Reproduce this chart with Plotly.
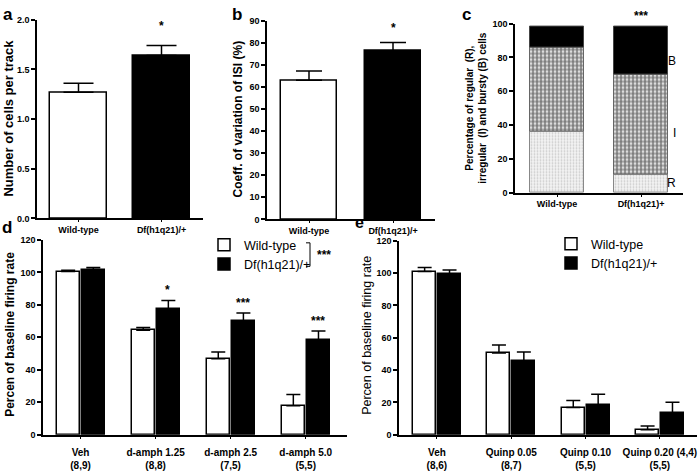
import plotly.graph_objects as go

W, H = 700, 471
F = "Liberation Sans"

# ---------------- data ----------------
a_groups = ["Wild-type", "Df(h1q21)/+"]
a_mean = [1.27, 1.64]
a_sem = [0.09, 0.10]

b_groups = ["Wild-type", "Df(h1q21)/+"]
b_mean = [63.0, 76.3]
b_sem = [4.2, 3.8]

c_groups = ["Wild-type", "Df(h1q21)+"]
c_regular = [36, 11]
c_irregular = [50, 59]
c_bursty = [12, 28]

d_doses = ["Veh<br>(8,9)", "d-amph 1.25<br>(8,8)", "d-amph 2.5<br>(7,5)", "d-amph 5.0<br>(5,5)"]
d_wt = [100.5, 64.3, 46.8, 17.8]
d_wt_sem = [0.8, 1.8, 4.2, 7.0]
d_df = [101.7, 77.5, 70.0, 58.4]
d_df_sem = [1.3, 5.2, 5.0, 5.5]
d_stars = ["", "*", "***", "***"]

e_doses = ["Veh<br>(8,6)", "Quinp 0.05<br>(8,7)", "Quinp 0.10<br>(5,5)", "Quinp 0.20 (4,4)<br>(5,5)"]
e_wt = [101.0, 50.6, 16.9, 3.0]
e_wt_sem = [2.5, 5.0, 4.2, 2.4]
e_df = [99.5, 45.8, 18.5, 13.3]
e_df_sem = [2.5, 5.4, 6.6, 6.8]

# ---------------- helpers ----------------
def px(x):
    return x / W

def py(y):
    return 1 - y / H

tick_font = dict(family=F, size=9, color="black", weight="bold")

def xax(x0, x1, anchor, rng, tickvals, ticktext, size=9, standoff=0, ticklen=3):
    return dict(domain=[px(x0), px(x1)], anchor=anchor, range=rng,
                tickvals=tickvals, ticktext=ticktext,
                showline=True, linecolor="black", linewidth=1.5,
                ticks="outside", ticklen=ticklen, tickwidth=1.2, tickcolor="black",
                showgrid=False, zeroline=False, ticklabelstandoff=standoff,
                tickfont=dict(family=F, size=size, color="black", weight="bold"),
                fixedrange=True)

def yax(y0, y1, anchor, rng, dtick, fmt=None):
    d = dict(domain=[py(y1), py(y0)], anchor=anchor, range=rng, dtick=dtick, tick0=0,
             showline=True, linecolor="black", linewidth=1.5,
             ticks="outside", ticklen=4, tickwidth=1.5, tickcolor="black",
             showgrid=False, zeroline=False, tickfont=tick_font, fixedrange=True)
    if fmt:
        d["tickformat"] = fmt
    return d

def up_err(sem, width):
    return dict(type="data", array=sem, arrayminus=[0] * len(sem), symmetric=False,
                color="black", thickness=1.5, width=width)

fig = go.Figure()

# ---------------- panel a ----------------
fig.add_trace(go.Bar(x=[0, 1], y=a_mean, width=0.68, xaxis="x", yaxis="y",
                     marker=dict(color=["white", "black"], line=dict(color="black", width=1.5)),
                     error_y=up_err(a_sem, 15), showlegend=False))

# ---------------- panel b ----------------
fig.add_trace(go.Bar(x=[0, 1], y=b_mean, width=0.67, xaxis="x2", yaxis="y2",
                     marker=dict(color=["white", "black"], line=dict(color="black", width=1.5)),
                     error_y=up_err(b_sem, 13), showlegend=False))

# ---------------- panel c ----------------
c_base_i = c_regular
c_base_b = [r + i for r, i in zip(c_regular, c_irregular)]
fig.add_trace(go.Bar(x=[0, 1], y=c_regular, width=0.65, xaxis="x3", yaxis="y3",
                     marker=dict(color="white",
                                 pattern=dict(shape=".", size=3, solidity=0.3,
                                              fgcolor="#a0a0a0", bgcolor="#f4f4f4"),
                                 line=dict(color="#888888", width=1)),
                     showlegend=False, name="R"))
fig.add_trace(go.Bar(x=[0, 1], y=c_irregular, base=c_base_i, width=0.65, xaxis="x3", yaxis="y3",
                     marker=dict(color="white",
                                 pattern=dict(shape=".", size=4, solidity=0.7,
                                              fgcolor="black", bgcolor="white"),
                                 line=dict(color="#666666", width=1)),
                     showlegend=False, name="I"))
fig.add_trace(go.Bar(x=[0, 1], y=c_bursty, base=c_base_b, width=0.65, xaxis="x3", yaxis="y3",
                     marker=dict(color="black", line=dict(color="#444444", width=1)),
                     showlegend=False, name="B"))

# ---------------- panel d ----------------
gx = list(range(4))
fig.add_trace(go.Bar(x=gx, y=d_wt, width=0.31, offset=-0.32, xaxis="x4", yaxis="y4",
                     name="Wild-type", legend="legend",
                     marker=dict(color="white", line=dict(color="black", width=1.5)),
                     error_y=up_err(d_wt_sem, 7)))
fig.add_trace(go.Bar(x=gx, y=d_df, width=0.31, offset=0.015, xaxis="x4", yaxis="y4",
                     name="Df(h1q21)/+", legend="legend",
                     marker=dict(color="black", line=dict(color="black", width=1.5)),
                     error_y=up_err(d_df_sem, 7)))

# ---------------- panel e ----------------
fig.add_trace(go.Bar(x=gx, y=e_wt, width=0.31, offset=-0.32, xaxis="x5", yaxis="y5",
                     name="Wild-type", legend="legend2",
                     marker=dict(color="white", line=dict(color="black", width=1.5)),
                     error_y=up_err(e_wt_sem, 7)))
fig.add_trace(go.Bar(x=gx, y=e_df, width=0.31, offset=0.015, xaxis="x5", yaxis="y5",
                     name="Df(h1q21)/+", legend="legend2",
                     marker=dict(color="black", line=dict(color="black", width=1.5)),
                     error_y=up_err(e_df_sem, 7)))

ann = []

def panel_label(t, x, y, size=17):
    ann.append(dict(text=t, x=px(x), y=py(y), xref="paper", yref="paper", showarrow=False,
                    xanchor="center", yanchor="middle",
                    font=dict(family=F, size=size, color="black", weight="bold")))

def ytitle(t, x, y, size=11, weight="bold"):
    ann.append(dict(text=t, x=px(x), y=py(y), xref="paper", yref="paper", showarrow=False,
                    textangle=-90, xanchor="center", yanchor="middle",
                    font=dict(family=F, size=size, color="black", weight=weight)))

def star(t, x, y, xr, yr, shift):
    ann.append(dict(text=t, x=x, y=y, xref=xr, yref=yr, showarrow=False,
                    xanchor="center", yanchor="bottom", yshift=shift,
                    font=dict(family=F, size=12, color="black", weight="bold")))

panel_label("a", 8, 10)
panel_label("b", 237, 10)
panel_label("c", 466, 10)
panel_label("d", 7, 227)
panel_label("e", 360, 222, size=16)

ytitle("Number of cells per track", 9, 116, size=13)
ytitle("Coeff. of variation of ISI (%)", 238, 117, size=12)
ytitle("Percentage of regular  (R),<br>irregular  (I) and bursty (B) cells", 476, 105, size=10)
ytitle("Percen of baseline firing rate", 10, 337, size=12)
ytitle("Percen of baseline firing rate", 367, 337, weight="normal", size=12.5)

star("*", 1, a_mean[1] + a_sem[1], "x", "y", 11)
star("*", 1, b_mean[1] + b_sem[1], "x2", "y2", 6)
star("***", 1, c_base_b[1] + c_bursty[1], "x3", "y3", 2)
for i, s in enumerate(d_stars):
    if s:
        star(s, i + 0.165, d_df[i] + d_df_sem[i], "x4", "y4", 1)

for t, y in zip(["B", "I", "R"], [48, 122, 182]):
    ann.append(dict(text=t, x=px(678), y=py(y), xref="paper", yref="paper", showarrow=False,
                    font=dict(family=F, size=12, color="#000000")))

ann.append(dict(text="***", x=px(324), y=py(255), xref="paper", yref="paper", showarrow=False,
                font=dict(family=F, size=12, color="black", weight="bold")))

shapes = [dict(type="path", xref="paper", yref="paper", line=dict(color="black", width=1),
               path=f"M {px(306)} {py(243)} L {px(310)} {py(243)} L {px(310)} {py(267)} L {px(306)} {py(267)}")]

leg_common = dict(bgcolor="rgba(0,0,0,0)", font=dict(family=F, size=12.5, color="black"),
                  xanchor="left", yanchor="top", itemclick=False, itemdoubleclick=False,
                  tracegroupgap=0)

fig.update_layout(
    width=W, height=H, margin=dict(l=0, r=0, t=0, b=0),
    paper_bgcolor="white", plot_bgcolor="white",
    barmode="overlay", bargap=0,
    font=dict(family=F, color="black"),
    xaxis=xax(37, 203, "y", [-0.5, 1.5], [0, 1], a_groups, ticklen=2),
    yaxis=yax(15, 218, "x", [0, 2], 0.5, ".1f"),
    xaxis2=xax(267, 435, "y2", [-0.5, 1.5], [0, 1], b_groups, ticklen=2),
    yaxis2=yax(16, 219, "x2", [0, 90], 10),
    xaxis3=xax(515, 683, "y3", [-0.5, 1.5], [0, 1], c_groups, ticklen=2),
    yaxis3=yax(19, 192, "x3", [0, 100], 20),
    xaxis4=xax(43, 347, "y4", [-0.5, 3.55], gx, d_doses, size=10, standoff=5),
    yaxis4=yax(240, 439, "x4", [0, 120], 20),
    xaxis5=xax(399, 697, "y5", [-0.51, 3.5], gx, e_doses, size=10, standoff=5),
    yaxis5=yax(241, 439, "x5", [0, 120], 20),
    legend=dict(x=px(204), y=py(230), **leg_common),
    legend2=dict(x=px(551), y=py(229), **leg_common),
    annotations=ann,
    shapes=shapes,
)

fig.write_html("out.html", config={"displayModeBar": False},
               post_script="document.body.style.margin='0px';document.body.style.padding='0px';document.body.style.overflow='hidden';")
